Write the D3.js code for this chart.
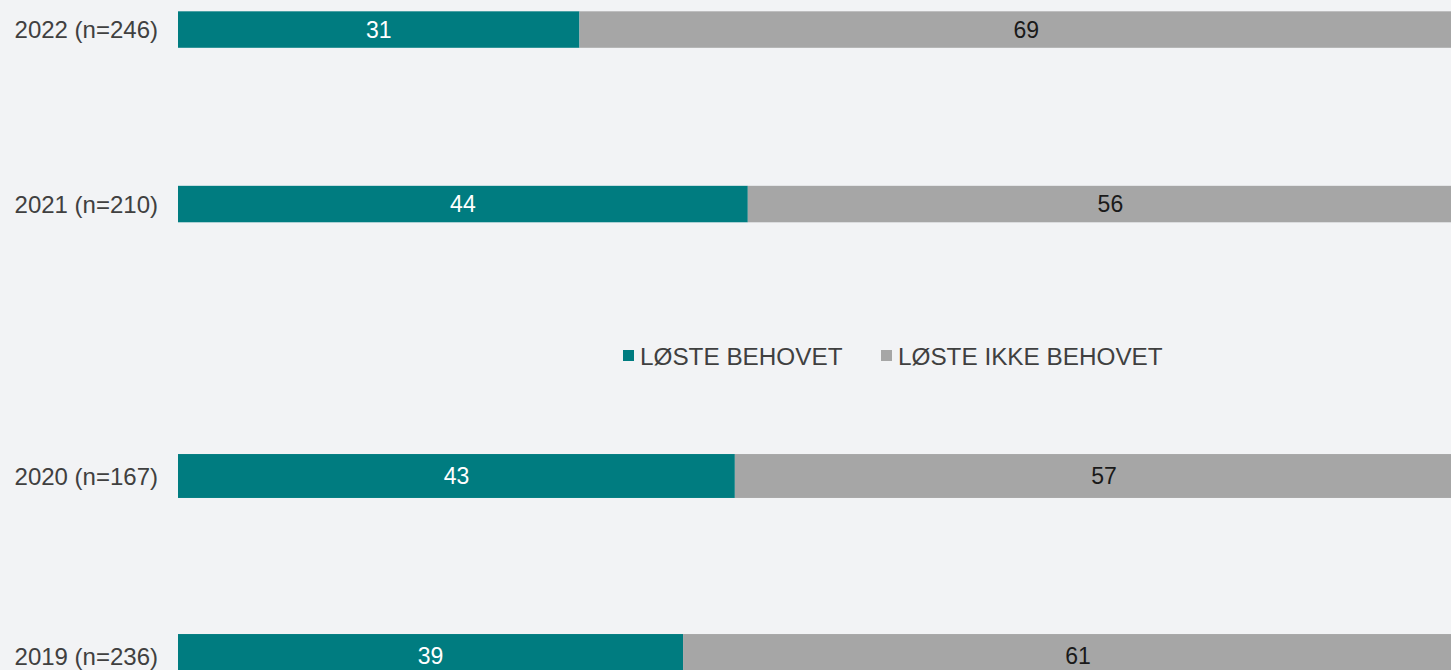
<!DOCTYPE html>
<html>
<head>
<meta charset="utf-8">
<script src="https://cdn.jsdelivr.net/npm/d3@7/dist/d3.min.js"></script>
<style>
  html, body { margin: 0; padding: 0; background: #f2f3f5; overflow: hidden; }
  svg { display: block; font-family: "Liberation Sans", Arial, sans-serif; }
</style>
</head>
<body>
<svg id="chart" width="1451" height="670"></svg>
<script>
// ---- data ----
const categoriesTop = ["2022 (n=246)", "2021 (n=210)"];
const categoriesBottom = ["2020 (n=167)", "2019 (n=236)"];
const categories = categoriesTop.concat(categoriesBottom);
const seriesNames = ["LØSTE BEHOVET", "LØSTE IKKE BEHOVET"];
const solved = [31, 44, 43, 39];
const notSolved = [69, 56, 57, 61];
const colors = ["#007c80", "#a6a6a6"];
const labelColors = ["#ffffff", "#1a1a1a"];

// ---- layout ----
const W = 1451, H = 670;
const svg = d3.select("#chart");
svg.append("rect").attr("width", W).attr("height", H).attr("fill", "#f2f3f5");

const x = d3.scaleLinear().domain([0, 100]).range([178, 1473]);

const yTop = d3.scaleBand().domain(categoriesTop)
  .range([-57.7, 291.3]).paddingInner(0.791).paddingOuter(0.3955);
const yBottom = d3.scaleBand().domain(categoriesBottom)
  .range([386, 746]).paddingInner(0.756).paddingOuter(0.378);

const rows = categories.map((c, i) => {
  const top = categoriesTop.includes(c);
  const ys = top ? yTop : yBottom;
  return { cat: c, y: ys(c), h: ys.bandwidth(), vals: [solved[i], notSolved[i]] };
});

rows.forEach(r => {
  let acc = 0;
  r.vals.forEach((v, k) => {
    const x0 = x(acc), x1 = x(acc + v);
    svg.append("rect")
      .attr("x", x0).attr("y", r.y)
      .attr("width", x1 - x0).attr("height", r.h)
      .attr("fill", colors[k]);
    svg.append("text")
      .attr("x", (x0 + x1) / 2).attr("y", r.y + r.h / 2)
      .attr("text-anchor", "middle").attr("dominant-baseline", "central")
      .attr("font-size", 23).attr("fill", labelColors[k])
      .text(v);
    acc += v;
  });
  svg.append("text")
    .attr("x", 158).attr("y", r.y + r.h / 2)
    .attr("text-anchor", "end").attr("dominant-baseline", "central")
    .attr("font-size", 24).attr("fill", "#404040")
    .text(r.cat);
});

// ---- legend ----
const legendX = [623, 881];
const legendY = 356;
seriesNames.forEach((name, k) => {
  const g = svg.append("g").attr("transform", `translate(${legendX[k]},${legendY})`);
  g.append("rect").attr("x", 0).attr("y", -6).attr("width", 11).attr("height", 11).attr("fill", colors[k]);
  g.append("text").attr("x", 17).attr("y", 0)
    .attr("dominant-baseline", "central")
    .attr("font-size", 24.3).attr("fill", "#404040")
    .text(name);
});
</script>
</body>
</html>
